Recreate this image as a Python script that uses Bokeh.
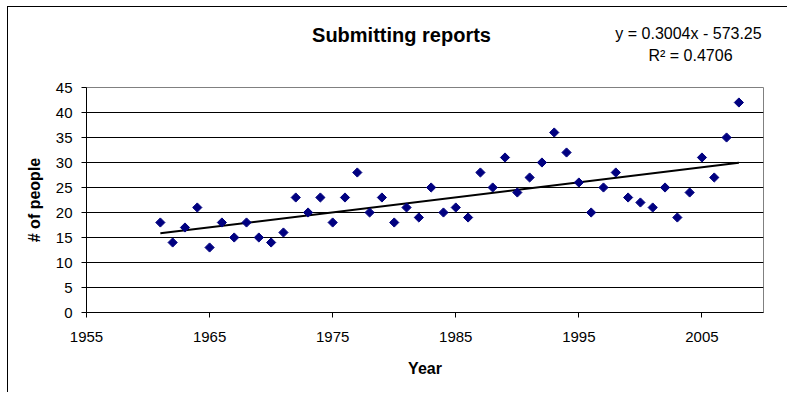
from bokeh.plotting import figure
from bokeh.layouts import column
from bokeh.models import Range1d, FixedTicker, ColumnDataSource
from bokeh.core.properties import value
from bokeh.embed import file_html
from bokeh.resources import INLINE
import math

# ---- data ----
years = list(range(1961, 2009))
people = [18, 14, 17, 21, 13, 18, 15, 18, 15, 14,
          16, 23, 20, 23, 18, 23, 28, 20, 23, 18,
          21, 19, 25, 20, 21, 19, 28, 25, 31, 24,
          27, 30, 36, 32, 26, 20, 25, 28, 23, 22,
          21, 25, 19, 24, 31, 27, 35, 42]
slope = 0.3004
intercept = -573.25
r_squared = 0.4706
x_ticks = [1955, 1965, 1975, 1985, 1995, 2005]
y_ticks = [0, 5, 10, 15, 20, 25, 30, 35, 40, 45]
title_text = "Submitting reports"
x_label = "Year"
y_label = "# of people"

FONT = "Liberation Sans"
W = 779
HEAD_H = 70
LEFT = 78
RIGHT = 24

# ---- header figure (title + trendline equation) ----
# its frame is aligned with the main plot's frame by the column layout,
# so the x range is expressed in the same pixel columns as the page content
head = figure(width=W, height=HEAD_H, output_backend="svg", toolbar_location=None,
              x_range=Range1d(LEFT, W - RIGHT), y_range=Range1d(HEAD_H, 0),
              x_axis_type=None, y_axis_type=None, min_border=0,
              background_fill_color="white", border_fill_color="white")
head.outline_line_color = None
head.grid.grid_line_color = None
head.text(x=[393], y=[27], text=[title_text], text_font=value(FONT),
          text_font_size="20px", text_font_style="bold", text_align="center",
          text_baseline="alphabetic", text_color="black")
eq1 = "y = %.4fx - %.2f" % (slope, -intercept)
eq2 = "R\u00b2 = %.4f" % r_squared
head.text(x=[680, 682], y=[26, 47.5], text=[eq1, eq2], text_font=value(FONT),
          text_font_size="16px", text_align="center",
          text_baseline="alphabetic", text_color="black")

# ---- main plot ----
p = figure(width=W, height=315, output_backend="svg", toolbar_location=None,
           x_range=Range1d(1955, 2010), y_range=Range1d(0, 45),
           min_border_left=LEFT, min_border_top=10, min_border_right=RIGHT, min_border_bottom=80,
           background_fill_color="white", border_fill_color="white")
p.outline_line_color = "#808080"
p.outline_line_width = 1

for ax in (p.xaxis[0], p.yaxis[0]):
    ax.axis_line_color = "black"
    ax.major_tick_line_color = "black"
    ax.major_tick_out = 5
    ax.major_tick_in = 0
    ax.minor_tick_line_color = None
    ax.major_label_text_font = FONT
    ax.major_label_text_font_size = "15px"
    ax.major_label_text_color = "black"
    ax.axis_label_text_font = FONT
    ax.axis_label_text_font_size = "16px"
    ax.axis_label_text_font_style = "bold"
    ax.axis_label_text_color = "black"

p.xaxis.ticker = FixedTicker(ticks=x_ticks)
p.yaxis.ticker = FixedTicker(ticks=y_ticks)
p.xaxis.axis_label = x_label
p.yaxis.axis_label = y_label
p.xaxis.major_label_standoff = 14
p.yaxis.major_label_standoff = 9
p.xaxis.axis_label_standoff = 15
p.yaxis.axis_label_standoff = 10

p.xgrid.grid_line_color = None
p.ygrid.ticker = FixedTicker(ticks=y_ticks[1:-1])
p.ygrid.grid_line_color = "black"
p.ygrid.grid_line_width = 1

tx = [years[0], years[-1]]
ty = [slope * x + intercept for x in tx]
p.line(tx, ty, line_color="black", line_width=2)

src = ColumnDataSource(dict(x=years, y=people))
p.scatter("x", "y", source=src, marker="square", size=6.5, angle=math.pi / 4,
          fill_color="#000080", line_color="#000080")

layout = column(head, p, spacing=0,
                styles={"margin-left": "7px", "margin-top": "6px",
                        "border-left": "1px solid #000", "border-top": "1px solid #000"})

open("out.html", "w").write(file_html(layout, INLINE))
